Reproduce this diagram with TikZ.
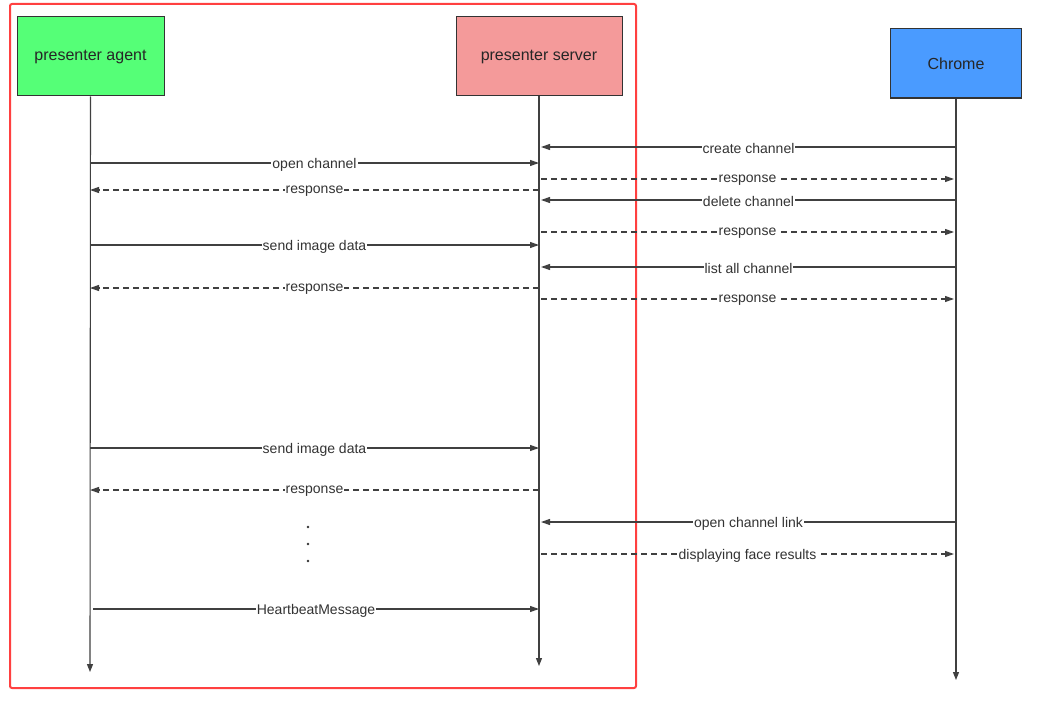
\documentclass[tikz,border=0pt]{standalone}
\usepackage{fontspec}
\setmainfont{Liberation Sans}
\usetikzlibrary{arrows.meta}
\begin{document}
\begin{tikzpicture}[x=1pt,y=-1pt,
  actor/.style={draw=black!80,line width=1pt,minimum width=#1,font=\fontsize{16}{18}\selectfont,text=black!85},
  life/.style={draw=black!75,line width=1.1pt,-{Triangle[length=8pt,width=6pt]}},
  msg/.style={draw=black!75,line width=1.1pt,-{Triangle[length=9pt,width=6pt]}},
  ret/.style={msg,dash pattern=on 6pt off 4pt},
  lab/.style={fill=white,inner sep=1pt,yshift=-1.5pt,font=\fontsize{14}{16}\selectfont,text=black!80}]
\useasboundingbox (0,0) rectangle (1050,701);
\fill[white] (0,0) rectangle (1050,701);
\draw[red!75!white,line width=2pt,rounded corners=2pt] (10,4) rectangle (636,688);
\node[actor=147pt,minimum height=79pt,fill={rgb,255:red,85;green,255;blue,119}] (A) at (90.5,56.5) {presenter agent};
\node[actor=166pt,minimum height=79pt,fill={rgb,255:red,244;green,154;blue,154}] (S) at (539,56.5) {presenter server};
\node[actor=131pt,minimum height=69pt,fill={rgb,255:red,74;green,155;blue,255}] (C) at (956,63.5) {Chrome};
\coordinate (Ae) at (90,672); \coordinate (Se) at (539,666); \coordinate (Ce) at (956,680);
\draw[life] (A.south) -- (Ae);
\draw[life] (S.south) -- (Se);
\draw[life] (C.south) -- (Ce);
\foreach \y/\t in {147/create channel,200/delete channel,267/list all channel,522/open channel link}{
  \coordinate (c1) at (956,\y); \coordinate (s1) at (541,\y);
  \draw[msg] (c1) -- node[lab]{\t} (s1);}
\foreach \y/\t in {179/response,232/response,299/response,554/displaying face results}{
  \coordinate (s2) at (541,\y); \coordinate (c2) at (954,\y);
  \draw[ret] (s2) -- node[lab]{\t} (c2);}
\foreach \y/\t in {163/open channel,245/send image data,448/send image data}{
  \coordinate (a3) at (90,\y); \coordinate (s3) at (539,\y);
  \draw[msg] (a3) -- node[lab]{\t} (s3);}
\foreach \y/\t in {190/response,288/response,490/response}{
  \coordinate (s4) at (539,\y); \coordinate (a4) at (90,\y);
  \draw[ret] (s4) -- node[lab]{\t} (a4);}
\coordinate (a5) at (93,609); \coordinate (s5) at (539,609);
\draw[msg] (a5) -- node[lab]{HeartbeatMessage} (s5);
\foreach \y in {527,544,561} \fill[black!80] (308,\y) circle (1.4pt);
\end{tikzpicture}
\end{document}
